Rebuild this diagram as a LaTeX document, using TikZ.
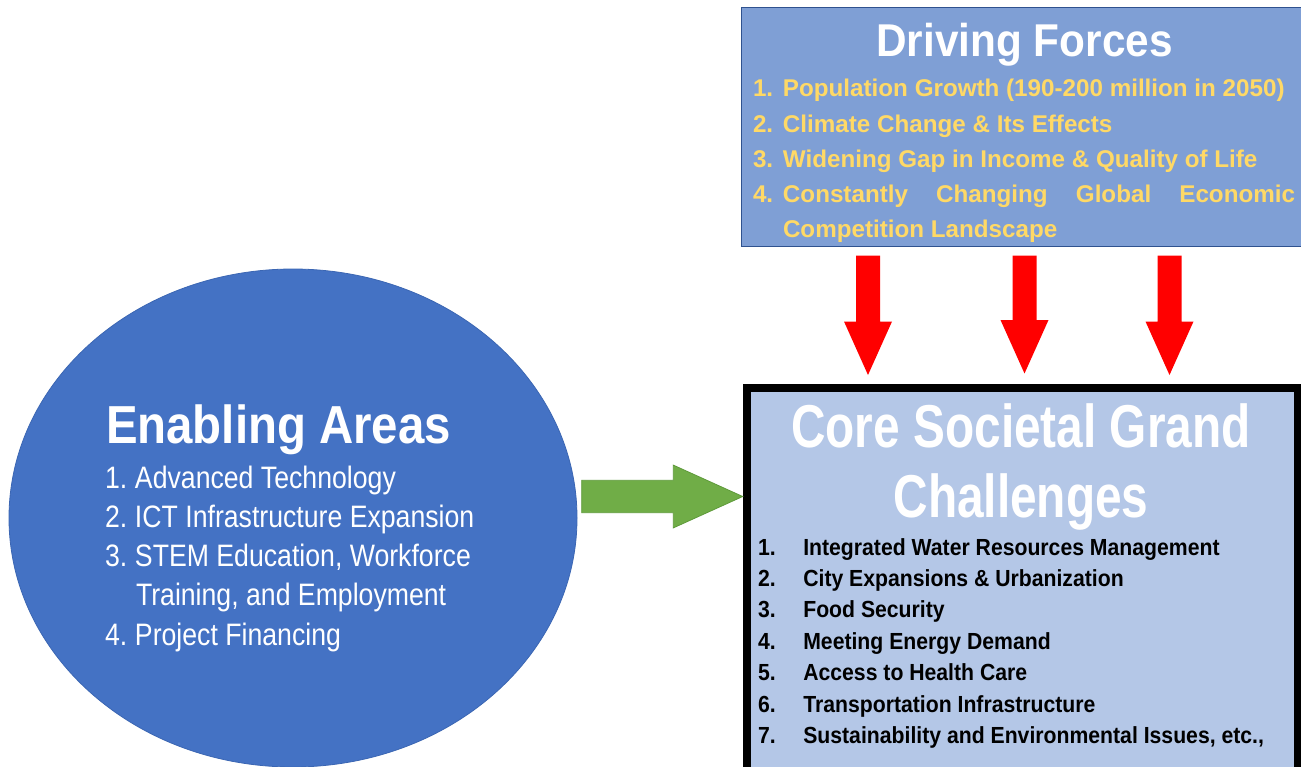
\documentclass[tikz,border=0pt]{standalone}
\usepackage{fontspec}
\setmainfont{Liberation Sans}
\newfontfamily\dftitlefont{Liberation Sans}[FakeStretch=0.92]
\newfontfamily\coretitlefont{Liberation Sans}[FakeStretch=0.79]
\newfontfamily\coreitemfont{Liberation Sans}[FakeStretch=0.91]
\newfontfamily\eatitlefont{Liberation Sans}[FakeStretch=0.886]
\newfontfamily\eaitemfont{Liberation Sans}[FakeStretch=0.86]
\usetikzlibrary{shapes.geometric,calc}

\definecolor{dffill}{HTML}{7F9FD5}
\definecolor{dfborder}{HTML}{2F528F}
\definecolor{dfgold}{HTML}{FFD966}
\definecolor{corefill}{HTML}{B4C7E7}
\definecolor{eablue}{HTML}{4472C4}
\definecolor{eaborder}{HTML}{3B66B3}
\definecolor{arrowgreen}{HTML}{70AD47}
\definecolor{arrowgreenedge}{HTML}{5E9A3A}
\definecolor{arrowred}{HTML}{FF0000}

\begin{document}
\begin{tikzpicture}[x=1pt,y=-1pt,
  every node/.style={inner sep=0pt,outer sep=0pt},
  dfbox/.style={rectangle,fill=dffill,draw=dfborder,line width=1pt,anchor=north west},
  corebox/.style={rectangle,fill=corefill,draw=black,line width=7.5pt,anchor=north west},
  eaoval/.style={ellipse,fill=eablue,draw=eaborder,line width=0.8pt},
  txt/.style={anchor=base west},
  dftitle/.style={anchor=base,text=white,font=\dftitlefont\bfseries\fontsize{46}{46}\selectfont},
  dfitem/.style={txt,text=dfgold,font=\bfseries\fontsize{24.2}{24.2}\selectfont},
  coretitle/.style={anchor=base,text=white,font=\coretitlefont\bfseries\fontsize{60.5}{60.5}\selectfont},
  coreitem/.style={txt,text=black,font=\coreitemfont\bfseries\fontsize{23.3}{23.3}\selectfont},
  eatitle/.style={txt,text=white,font=\eatitlefont\bfseries\fontsize{53.5}{53.5}\selectfont},
  eaitem/.style={txt,text=white,font=\eaitemfont\fontsize{31}{31}\selectfont},
  downarrow/.style={fill=arrowred},
  rightarrow/.style={fill=arrowgreen,draw=arrowgreenedge,line width=0.8pt}]

\useasboundingbox[fill=white] (0,0) rectangle (1301,766);
\begin{scope}
\clip (0,0) rectangle (1301,766);

% Driving forces panel
\node[dfbox,minimum width=563pt,minimum height=238.5pt] (df) at (741,7.5) {};
\node[dftitle] (dft) at (1024.5,56.7) {Driving Forces};
\node[dfitem] (df1) at (753,96.7) {\makebox[30pt][l]{1.}Population Growth (190-200 million in 2050)};
\node[dfitem] (df2) at (753,132) {\makebox[30pt][l]{2.}Climate Change \& Its Effects};
\node[dfitem] (df3) at (753,167.3) {\makebox[30pt][l]{3.}Widening Gap in Income \& Quality of Life};
\node[dfitem] (df4) at (753,202.6) {\makebox[30pt][l]{4.}\makebox[512pt][s]{Constantly Changing Global Economic}};
\node[dfitem] (df5) at (753,237.9) {\hspace*{30pt}Competition Landscape};

% Core challenges panel
\node[corebox,minimum width=550.25pt,minimum height=400pt] (core) at (747,387.75) {};
\node[coretitle] (ct1) at (1021,447.5) {Core Societal Grand};
\node[coretitle] (ct2) at (1021,517) {Challenges};
\foreach \n/\t [count=\i] in {1./Integrated Water Resources Management,
                              2./City Expansions \& Urbanization,
                              3./Food Security,
                              4./Meeting Energy Demand,
                              5./Access to Health Care,
                              6./Transportation Infrastructure,
                              7./{Sustainability and Environmental Issues, etc.,}}
  \node[coreitem] (ci\i) at (758,{555+31.4*(\i-1)}) {\makebox[45.3pt][l]{\n}\t};

% Enabling areas oval
\node[eaoval,minimum width=568pt,minimum height=498pt] (ea) at (293,518) {};
\node[eatitle] (eat) at (106,443.3) {Enabling Areas};
\node[eaitem] (ea1) at (105,488.3) {\makebox[30pt][l]{1.}Advanced Technology};
\node[eaitem] (ea2) at (105,527.5) {\makebox[30pt][l]{2.}ICT Infrastructure Expansion};
\node[eaitem] (ea3) at (105,566.7) {\makebox[30pt][l]{3.}STEM Education, Workforce};
\node[eaitem] (ea4) at (105,605.9) {\hspace*{31pt}Training, and Employment};
\node[eaitem] (ea5) at (105,645.1) {\makebox[30pt][l]{4.}Project Financing};

% Block arrow from the oval into the core panel
\coordinate (gS) at ($(ea.east)+(4.7,-21.5)$);
\coordinate (gT) at ($(core.west |- gS)+(-4.3,0)$);
\filldraw[rightarrow] ($(gS)+(0,-16.2)$) -- ($(gT)+(-69.4,-16.2)$) -- ($(gT)+(-69.4,-31.4)$)
  -- (gT) -- ($(gT)+(-69.4,31.4)$) -- ($(gT)+(-69.4,16.2)$) -- ($(gS)+(0,16.2)$) -- cycle;

% Block arrows from the driving forces down to the core panel
\foreach \x/\d [count=\i] in {868/12.75, 1024.5/14.25, 1169.5/12.75} {
  \coordinate (rs\i) at ($(\x,0 |- df.south)+(0,9.5)$);
  \coordinate (re\i) at ($(\x,0 |- core.north)+(0,-\d)$);
  \fill[downarrow] ($(rs\i)+(-12,0)$) -- ($(rs\i)+(12,0)$) -- ($(re\i)+(12,-53.5)$)
    -- ($(re\i)+(24,-53.5)$) -- (re\i) -- ($(re\i)+(-24,-53.5)$) -- ($(re\i)+(-12,-53.5)$) -- cycle;
}
\end{scope}
\end{tikzpicture}
\end{document}
